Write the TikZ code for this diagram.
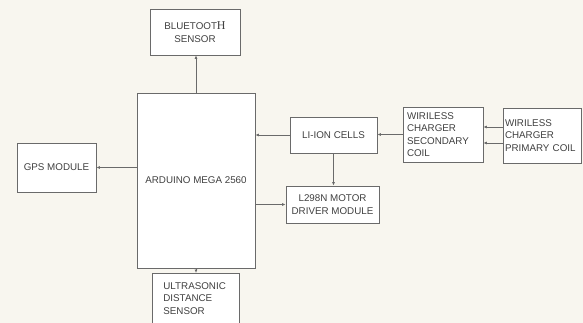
\documentclass[tikz,border=0pt]{standalone}
\usepackage{fontspec}
\setmainfont{Liberation Sans}
\newfontfamily\serifH{Liberation Serif}
\usetikzlibrary{arrows.meta}
\definecolor{bg}{HTML}{F8F6EF}
\definecolor{edge}{HTML}{6A6A6A}
\definecolor{txt}{HTML}{404040}
\begin{document}
\begin{tikzpicture}[x=1pt,y=-1pt,
  blk/.style={draw=edge, fill=white, line width=0.8pt, inner sep=0pt, text=txt,
    font=\fontsize{9.8}{12.5}\selectfont, align=center},
  arr/.style={draw=edge, line width=0.8pt, -{Latex[length=3.5pt,width=3pt]}}]
\useasboundingbox (0,0) rectangle (583,323);
\fill[bg] (0,0) rectangle (583,323);
\clip (0,0) rectangle (583,323);
\node[blk, minimum width=90pt, minimum height=46pt] (bt) at (195,32) {BLUETOOT{\serifH\fontsize{12}{12}\selectfont H}\\SENSOR};
\node[blk, minimum width=118pt, minimum height=175pt] (ard) at (196,180.5) {ARDUINO MEGA 2560};
\node[blk, minimum width=79pt, minimum height=49pt] (gps) at (56.5,167.5) {GPS MODULE};
\node[blk, minimum width=87pt, minimum height=36pt] (li) at (333.5,135) {LI-ION CELLS};
\node[blk, minimum width=93pt, minimum height=37pt] (drv) at (332.5,204.5) {L298N MOTOR\\DRIVER MODULE};
\node[blk, minimum width=80pt, minimum height=55pt, text width=72pt, align=left] (sec) at (443,134.5) {WIRILESS\\CHARGER\\SECONDARY\\COIL};
\node[blk, minimum width=78pt, minimum height=55pt, text width=74pt, align=left] (pri) at (542,135.5) {WIRILESS\\CHARGER\\PRIMARY COIL};
\node[blk, anchor=north west, inner xsep=11pt, inner ysep=9pt, text width=65pt, align=left] (us) at (152,273) {ULTRASONIC\\DISTANCE\\SENSOR};
\draw[edge, line width=0.8pt] (us.north west) -- ++(0,60) (us.north east) -- ++(0,60);
\coordinate (p1) at (0,127);
\coordinate (p2) at (0,143);
\draw[arr] (ard.north) -- (ard.north |- bt.south);
\draw[arr] (ard.west |- gps.east) -- (gps.east);
\draw[arr] (li.west) -- (li.west -| ard.east);
\draw[arr] (drv.west -| ard.east) -- (drv.west);
\draw[arr] (li.south) -- (li.south |- drv.north);
\draw[arr] (sec.west) -- (sec.west -| li.east);
\draw[arr] (pri.west |- p1) -- (sec.east |- p1);
\draw[arr] (pri.west |- p2) -- (sec.east |- p2);
\draw[arr] (ard.south) -- (ard.south |- us.north);
\end{tikzpicture}
\end{document}
